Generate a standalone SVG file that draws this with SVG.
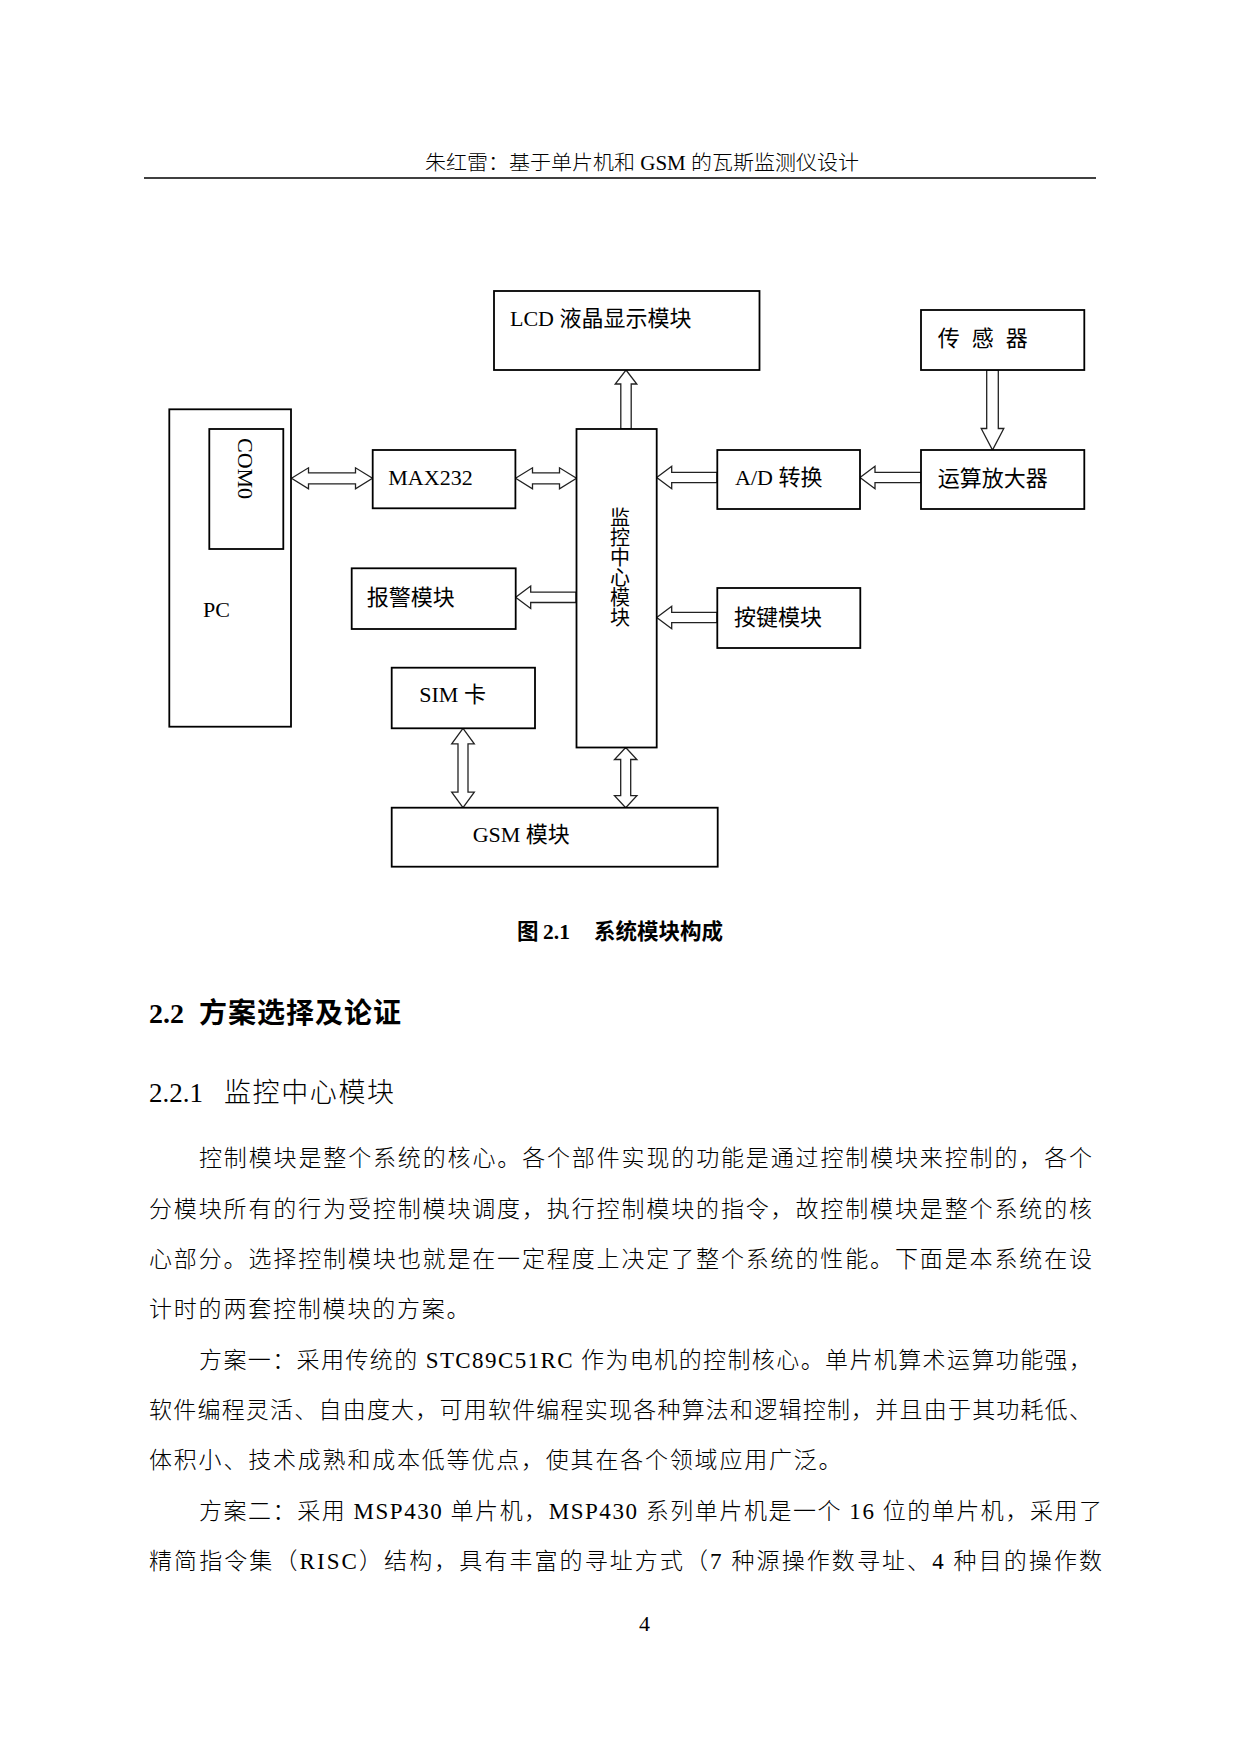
<svg xmlns="http://www.w3.org/2000/svg" width="1241" height="1754" viewBox="0 0 1241 1754">
<style>
.box{fill:#fff;stroke:#000;stroke-width:1.8}
.arr{fill:#fff;stroke:#222;stroke-width:1.3;stroke-linejoin:miter}
.lbl{font-family:"Liberation Serif","Noto Sans CJK SC",sans-serif;font-size:22px;fill:#000}
.vt{font-family:"Noto Sans CJK SC",sans-serif;font-size:20px;fill:#000;writing-mode:vertical-rl}
.hdr{font-family:"Liberation Serif","Noto Sans CJK SC",serif;font-size:20px;font-weight:300;fill:#000}
.body{font-family:"Liberation Serif","Noto Sans CJK SC",serif;font-size:23px;font-weight:300;fill:#000}
.cap{font-family:"Liberation Serif","Noto Sans CJK SC",serif;font-size:21.5px;font-weight:bold;fill:#000}
.h2{font-family:"Liberation Serif","Noto Sans CJK SC",serif;font-size:28px;font-weight:bold;fill:#000}
.h3{font-family:"Liberation Serif","Noto Sans CJK SC",serif;font-size:27px;font-weight:300;fill:#000}
</style>
<rect x="0" y="0" width="1241" height="1754" fill="#fff"/>

<g id="header">
<text class="hdr" x="425" y="169.5" textLength="434" lengthAdjust="spacingAndGlyphs">朱红雷：基于单片机和 GSM 的瓦斯监测仪设计</text>
<line x1="144" y1="178" x2="1096" y2="178" stroke="#000" stroke-width="1.6"/>
</g>

<g id="connectors">
<path class="arr" d="M291.5,478.3 L308.5,467.8 L308.5,472.8 L355.5,472.8 L355.5,467.8 L372.5,478.3 L355.5,488.8 L355.5,483.8 L308.5,483.8 L308.5,488.8 Z"/>
<path class="arr" d="M515.5,478.3 L532.5,467.8 L532.5,472.8 L559.5,472.8 L559.5,467.8 L576.5,478.3 L559.5,488.8 L559.5,483.8 L532.5,483.8 L532.5,488.8 Z"/>
<path class="arr" d="M626,370 L636.8,384 L631.2,384 L631.2,429 L620.8,429 L620.8,384 L615.2,384 Z"/>
<path class="arr" d="M986.7,370 L998.3,370 L998.3,428.5 L1003.8,428.5 L992.5,450 L981.2,428.5 L986.7,428.5 Z"/>
<path class="arr" d="M860,477.5 L875,466.3 L875,472.3 L921,472.3 L921,482.7 L875,482.7 L875,488.7 Z"/>
<path class="arr" d="M656.7,477.5 L671.7,466.3 L671.7,472.3 L717,472.3 L717,482.7 L671.7,482.7 L671.7,488.7 Z"/>
<path class="arr" d="M515.7,597.3 L530.7,586.1 L530.7,592.1 L576,592.1 L576,602.5 L530.7,602.5 L530.7,608.5 Z"/>
<path class="arr" d="M656.7,617.5 L671.7,606.3 L671.7,612.3 L717,612.3 L717,622.7 L671.7,622.7 L671.7,628.7 Z"/>
<path class="arr" d="M463,728.3 L474.3,743.8 L468,743.8 L468,792.2 L474.3,792.2 L463,807.7 L451.7,792.2 L458,792.2 L458,743.8 L451.7,743.8 Z"/>
<path class="arr" d="M625.7,747.5 L636.9,759.5 L630.7,759.5 L630.7,795.7 L636.9,795.7 L625.7,807.7 L614.5,795.7 L620.7,795.7 L620.7,759.5 L614.5,759.5 Z"/>
</g>

<g id="lcd">
<rect class="box" x="494" y="291" width="265.5" height="79"/>
<text class="lbl" x="510" y="326">LCD 液晶显示模块</text>
</g>

<g id="sensor">
<rect class="box" x="921" y="310" width="163.3" height="60"/>
<text class="lbl" x="937.7" y="346">传</text>
<text class="lbl" x="971.7" y="346">感</text>
<text class="lbl" x="1005.7" y="346">器</text>
</g>

<g id="pc">
<rect class="box" x="169.3" y="409.3" width="121.7" height="317.4"/>
<text class="lbl" x="203" y="617">PC</text>
</g>

<g id="com0">
<rect class="box" x="209.3" y="429" width="74" height="120"/>
<text class="lbl" transform="translate(238,438) rotate(90)" font-size="21">COM0</text>
</g>

<g id="max232">
<rect class="box" x="372.7" y="450" width="142.7" height="58.3"/>
<text class="lbl" x="388.3" y="485">MAX232</text>
</g>

<g id="center">
<rect class="box" x="576.5" y="429" width="80.2" height="318.5"/>
<text class="vt" x="620" y="507">监控中心模块</text>
</g>

<g id="ad">
<rect class="box" x="717.3" y="450" width="142.7" height="59"/>
<text class="lbl" x="735" y="485">A/D 转换</text>
</g>

<g id="opamp">
<rect class="box" x="921" y="450" width="163.3" height="59"/>
<text class="lbl" x="937.7" y="486">运算放大器</text>
</g>

<g id="alarm">
<rect class="box" x="351.7" y="568.3" width="164" height="60.7"/>
<text class="lbl" x="366.7" y="605">报警模块</text>
</g>

<g id="key">
<rect class="box" x="717.3" y="588" width="143" height="60"/>
<text class="lbl" x="734" y="625">按键模块</text>
</g>

<g id="sim">
<rect class="box" x="391.7" y="667.7" width="143.3" height="60.6"/>
<text class="lbl" x="419.3" y="702">SIM 卡</text>
</g>

<g id="gsm">
<rect class="box" x="391.7" y="807.7" width="326" height="59"/>
<text class="lbl" x="472.7" y="842">GSM 模块</text>
</g>

<g id="caption">
<text class="cap" x="517" y="939">图</text>
<text class="cap" x="543" y="939">2.1</text>
<text class="cap" x="594" y="939" textLength="129" lengthAdjust="spacing">系统模块构成</text>
</g>

<g id="headings">
<text class="h2" x="149" y="1023">2.2</text>
<text class="h2" x="199" y="1023" textLength="202" lengthAdjust="spacing">方案选择及论证</text>
<text class="h3" x="149" y="1102">2.2.1</text>
<text class="h3" x="224" y="1102" textLength="170" lengthAdjust="spacing">监控中心模块</text>
</g>

<g id="bodytext">
<text class="body" x="199" y="1166" textLength="893" lengthAdjust="spacing">控制模块是整个系统的核心。各个部件实现的功能是通过控制模块来控制的，各个</text>
<text class="body" x="149" y="1216.5" textLength="943" lengthAdjust="spacing">分模块所有的行为受控制模块调度，执行控制模块的指令，故控制模块是整个系统的核</text>
<text class="body" x="149" y="1267" textLength="943" lengthAdjust="spacing">心部分。选择控制模块也就是在一定程度上决定了整个系统的性能。下面是本系统在设</text>
<text class="body" x="149" y="1317" letter-spacing="1.8">计时的两套控制模块的方案。</text>
<text class="body" x="199" y="1367.5" textLength="893" lengthAdjust="spacing">方案一：采用传统的 STC89C51RC 作为电机的控制核心。单片机算术运算功能强，</text>
<text class="body" x="149" y="1418" textLength="943" lengthAdjust="spacing">软件编程灵活、自由度大，可用软件编程实现各种算法和逻辑控制，并且由于其功耗低、</text>
<text class="body" x="149" y="1468" letter-spacing="1.8">体积小、技术成熟和成本低等优点，使其在各个领域应用广泛。</text>
<text class="body" x="199" y="1518.5" textLength="903" lengthAdjust="spacing">方案二：采用 MSP430 单片机，MSP430 系列单片机是一个 16 位的单片机，采用了</text>
<text class="body" x="149" y="1569" textLength="953" lengthAdjust="spacing">精简指令集（RISC）结构，具有丰富的寻址方式（7 种源操作数寻址、4 种目的操作数</text>
</g>

<g id="footer">
<text class="lbl" x="644.5" y="1631" text-anchor="middle">4</text>
</g>
</svg>
